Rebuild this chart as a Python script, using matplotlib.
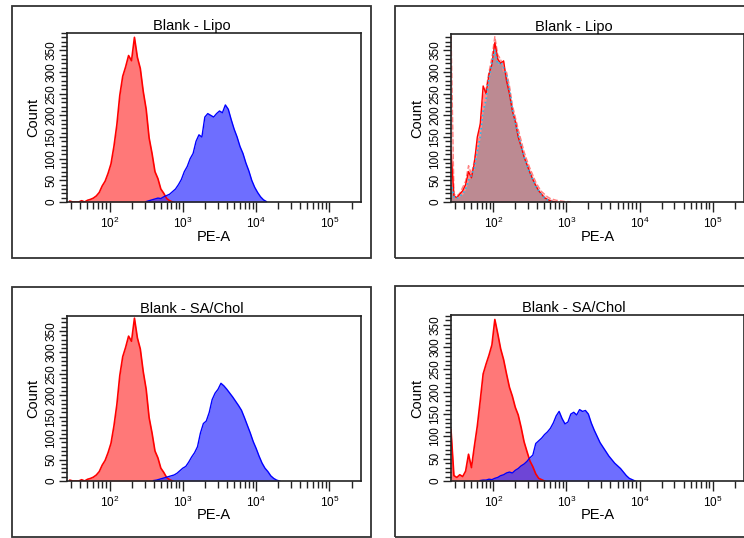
import numpy as np
import matplotlib
matplotlib.use('Agg')
import matplotlib.pyplot as plt
from matplotlib.patches import Rectangle
from matplotlib.ticker import LogLocator, MultipleLocator, NullFormatter

plt.rcParams['font.family'] = ['Liberation Sans', 'DejaVu Sans']

# histogram counts, one value per bin of 0.04 log10(PE-A) units,
# first bin centred at the *_start value
blank_start = 1.46
blank = [2, 0, 0, 0, 3, 0, 4, 6, 9, 14, 22, 37, 48, 66, 88, 128, 178, 246, 290, 312,
         338, 326, 380, 334, 308, 255, 214, 148, 112, 70, 54, 30, 20, 8, 3, 0]

lipo_start = 2.50
lipo = [1, 3, 5, 7, 9, 8, 12, 15, 18, 24, 30, 40, 52, 70, 82, 100, 112, 140, 155, 150,
        196, 204, 200, 196, 204, 210, 206, 224, 214, 190, 168, 150, 128, 112, 90, 72,
        50, 34, 22, 12, 5, 1]

sachol_start = 2.60
sachol = [1, 2, 4, 6, 8, 10, 12, 14, 18, 24, 30, 34, 44, 56, 66, 80, 112, 134, 140, 160,
          190, 205, 214, 228, 222, 214, 205, 196, 186, 176, 165, 148, 130, 112, 92, 76,
          58, 42, 30, 22, 12, 6, 2, 0]

# top right panel
blank2_start = 1.42
blank2 = [118, 14, 10, 18, 26, 40, 70, 56, 90, 150, 180, 268, 250, 295, 318, 368, 330,
          320, 326, 280, 250, 210, 186, 150, 128, 104, 86, 68, 52, 38, 26, 18, 10, 6, 3, 1, 0]
lipo2_start = 1.42
lipo2 = [44, 12, 8, 14, 18, 30, 50, 62, 78, 118, 150, 210, 236, 285, 322, 352, 318, 324,
         310, 292, 258, 214, 182, 156, 130, 104, 84, 66, 52, 36, 26, 16, 10, 5, 2, 0]
lipo2b_start = 1.42
lipo2b = [400, 18, 14, 20, 34, 48, 84, 64, 96, 130, 176, 240, 262, 300, 334, 382, 340,
          330, 300, 300, 268, 224, 196, 168, 142, 116, 96, 78, 62, 46, 34, 24, 18, 12, 8,
          6, 4, 3, 2, 1, 1, 0]

# bottom right panel
blank4_start = 1.42
blank4 = [115, 12, 8, 14, 10, 22, 60, 30, 78, 123, 180, 240, 262, 282, 305, 362, 330,
          296, 272, 240, 210, 190, 165, 148, 120, 88, 66, 45, 32, 16, 6, 3, 0]
sachol4_start = 1.82
sachol4 = [1, 2, 2, 4, 3, 6, 8, 12, 14, 18, 20, 18, 24, 28, 34, 38, 44, 52, 58, 84, 90,
           96, 104, 110, 118, 130, 146, 156, 140, 128, 132, 150, 154, 148, 160, 156, 158,
           150, 130, 114, 100, 86, 76, 66, 56, 48, 40, 34, 28, 20, 12, 6, 3, 0]

titles = ['Blank - Lipo', 'Blank - Lipo', 'Blank - SA/Chol', 'Blank - SA/Chol']
ytops = [390, 388, 385, 372]
yticks = [0, 50, 100, 150, 200, 250, 300, 350]

STEP = 0.04
W, H = 744, 538
RED_F = '#ff3030'
BLUE_F = '#3030ff'


def hist(ax, start, counts, fc, alpha, lc, ls='-', lw=1.0):
    x = 10 ** (start + STEP * np.arange(len(counts)))
    ax.fill_between(x, counts, 0, color=fc, alpha=alpha, lw=0)
    ax.plot(x, counts, color=lc, lw=lw, ls=ls)


def px_rect(x0, y0, x1, y1):
    return [x0 / W, 1 - y1 / H, (x1 - x0) / W, (y1 - y0) / H]


fig = plt.figure(figsize=(W / 100, H / 100), dpi=100)

frames = [(12, 6, 371, 258), (395, 6, 760, 258), (12, 287, 371, 537), (395, 286, 760, 537)]
boxes = [(67, 33, 361, 202), (451, 34, 744, 202), (67, 316, 361, 481), (451, 315, 744, 481)]

axes = []
for i in range(4):
    fx0, fy0, fx1, fy1 = frames[i]
    fig.add_artist(Rectangle((fx0 / W, 1 - fy1 / H), (fx1 - fx0) / W, (fy1 - fy0) / H,
                             transform=fig.transFigure, fill=False, ec='#333333', lw=1.3,
                             clip_on=False))
    fig.text((fx0 + fx1) / 2 / W if i % 2 == 0 else 573.5 / W,
             1 - (boxes[i][1] - 3) / H, titles[i], ha='center', va='baseline', fontsize=10.5)

    ax = fig.add_axes(px_rect(*boxes[i]))
    ax.set_xscale('log')
    ax.set_xlim(10 ** 1.42, 10 ** 5.43)
    ax.set_ylim(0, ytops[i])
    ax.xaxis.set_major_locator(LogLocator(base=10))
    ax.xaxis.set_minor_locator(LogLocator(base=10, subs=np.arange(2, 10)))
    ax.xaxis.set_minor_formatter(NullFormatter())
    ax.yaxis.set_major_locator(MultipleLocator(50))
    ax.yaxis.set_minor_locator(MultipleLocator(10))
    ax.set_yticks(yticks)
    ax.tick_params(which='both', direction='out', color='#222222', width=1.0)
    ax.tick_params(which='major', length=7)
    ax.tick_params(which='minor', length=5)
    ax.tick_params(axis='y', which='major', length=6, labelsize=8.5, pad=1)
    ax.tick_params(axis='y', which='minor', length=4)
    ax.tick_params(axis='x', labelsize=8.5, pad=3)
    for lab in ax.get_yticklabels():
        lab.set_rotation(90)
        lab.set_va('center')
    for s in ax.spines.values():
        s.set_linewidth(1.2)
        s.set_color('#222222')
    ax.set_xlabel('PE-A', fontsize=10.5, labelpad=0)
    ax.set_ylabel('Count', fontsize=10.5)
    ax.xaxis.set_label_coords(0.5, -0.165)
    ax.yaxis.set_label_coords(-0.09, 0.5)
    axes.append(ax)

ax1, ax2, ax3, ax4 = axes

hist(ax1, blank_start, blank, RED_F, 0.65, 'red', lw=1.2)
hist(ax1, lipo_start, lipo, BLUE_F, 0.7, 'blue', lw=1.0)

hist(ax2, lipo2b_start, lipo2b, '#ff9090', 0.35, '#ff8080', ls='--', lw=1.0)
hist(ax2, blank2_start, blank2, RED_F, 0.45, 'red', lw=1.0)
hist(ax2, lipo2_start, lipo2, '#7a8a98', 0.5, '#22bbee', ls=':', lw=1.2)

hist(ax3, blank_start, blank, RED_F, 0.65, 'red', lw=1.2)
hist(ax3, sachol_start, sachol, BLUE_F, 0.7, 'blue', lw=1.0)

hist(ax4, blank4_start, blank4, RED_F, 0.65, 'red', lw=1.2)
hist(ax4, sachol4_start, sachol4, BLUE_F, 0.7, 'blue', lw=1.0)

fig.savefig('out.png', dpi=100)
